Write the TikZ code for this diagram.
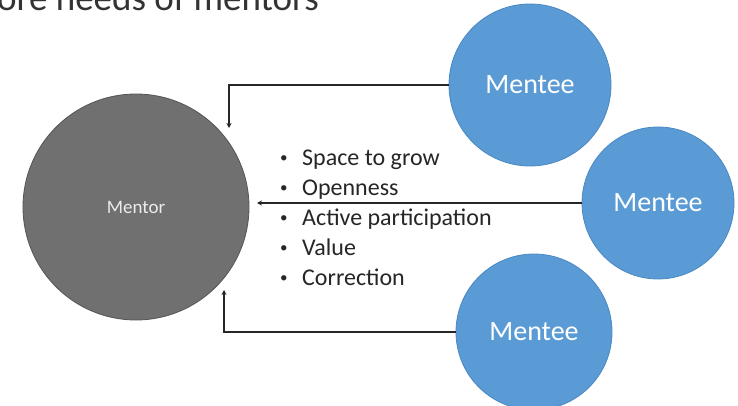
\documentclass[tikz,border=0pt]{standalone}
\usepackage{fontspec}
\setmainfont{Carlito}
\usetikzlibrary{arrows.meta}
\definecolor{menteeblue}{HTML}{5B9BD5}
\definecolor{menteeedge}{HTML}{4A88C2}
\definecolor{mentorgray}{HTML}{707070}
\definecolor{mentoredge}{HTML}{555555}
\definecolor{linkgray}{HTML}{262626}
\newcommand{\need}[1]{\makebox[24pt][l]{\hspace{2pt}\raisebox{2.5pt}{\fontsize{15}{15}\selectfont\textbullet}}#1}
\tikzset{
  mentee/.style={circle, fill=menteeblue, draw=menteeedge, line width=0.8pt,
    text=white, inner sep=0pt, font=\fontsize{28}{30}\selectfont},
  mentor/.style={circle, fill=mentorgray, draw=mentoredge, line width=0.8pt,
    text=white!85!gray, inner sep=0pt, font=\fontsize{19}{22}\selectfont},
  needitem/.style={anchor=base west, inner sep=0pt, text=black!85,
    font=\fontsize{24}{30}\selectfont},
  link/.style={draw=linkgray, line width=1.4pt,
    -{Stealth[length=5pt,width=5pt]}}
}

\begin{document}
\begin{tikzpicture}[x=1pt,y=-1pt]
    \fill[white] (0,0) rectangle (738,406);
    \useasboundingbox (0,0) rectangle (738,406);
    % Title, cut by the top edge
    \node[anchor=base west, inner sep=0pt, text=black!80,
      font=\fontsize{37}{40}\selectfont] (title) at (-3,11) {ore needs of mentors};
    % Mentor
    \node[mentor, minimum size=226pt] (mentor) at (136,207) {Mentor};
    % Mentees
    \node[mentee, minimum size=162pt] (topmentee) at (530,85) {Mentee};
    \node[mentee, minimum size=152pt] (midmentee) at (658,203) {Mentee};
    \node[mentee, minimum size=156pt] (lowmentee) at (534,332) {Mentee};
    % Needs in the middle
    \node[needitem] (need1) at (278,165) {\need{Space to grow}};
    \node[needitem] (need2) at (278,195) {\need{Openness}};
    \node[needitem] (need3) at (278,225) {\need{Active participation}};
    \node[needitem] (need4) at (278,255) {\need{Value}};
    \node[needitem] (need5) at (278,285) {\need{Correction}};
    % Arrow ends next to the mentor
    \coordinate (tipA) at (229,128);
    \coordinate (tipB) at (257,203);
    \coordinate (tipC) at (224,290);
    \draw[link] (topmentee.west) -| (tipA);
    \draw[link] (midmentee.west) -- (tipB);
    \draw[link] (lowmentee.west) -| (tipC);
\end{tikzpicture}
\end{document}
